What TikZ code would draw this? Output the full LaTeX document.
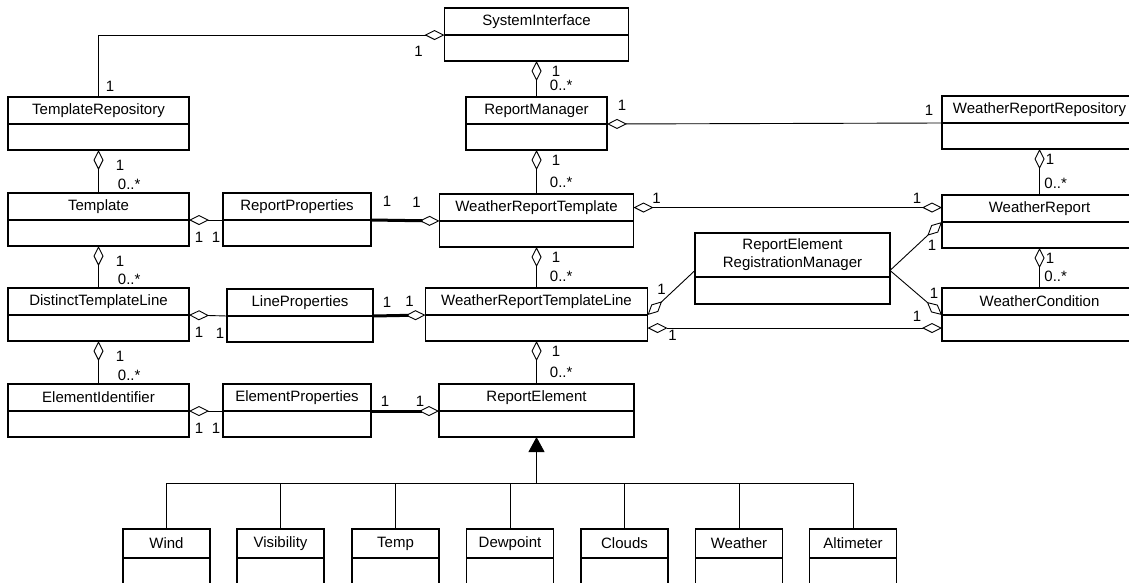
\documentclass[tikz,border=0pt]{standalone}
\usepackage{fontspec}
\setmainfont{Liberation Sans}
\usetikzlibrary{positioning, arrows.meta}

\begin{document}
\begin{tikzpicture}[x=1pt, y=-1pt,
    classhead/.style={draw, line width=1.1pt, inner sep=0pt, outer sep=0pt, anchor=north,
      minimum height=27pt, align=center, font=\fontsize{15}{18}\selectfont},
    classbody/.style={draw, line width=1.1pt, inner sep=0pt, outer sep=0pt, minimum height=26pt},
    conn/.style={line width=0.9pt},
    agg/.style={conn, {Diamond[open, length=20pt, width=10pt, line width=0.9pt]}-},
    aggr/.style={conn, -{Diamond[open, length=20pt, width=10pt, line width=0.9pt]}},
    aggboth/.style={conn, {Diamond[open, length=20pt, width=10pt, line width=0.9pt]}-{Diamond[open, length=20pt, width=10pt, line width=0.9pt]}},
    strong/.style={line width=3pt, -{Diamond[open, length=20pt, width=10pt, line width=0.9pt]}},
    inherit/.style={conn, -{Triangle[length=15pt, width=16pt]}},
    mult/.style={font=\fontsize{15}{18}\selectfont, inner sep=1pt, anchor=base west}]
    \useasboundingbox (0,0) rectangle (1129,582);
    \clip (0,0) rectangle (1129,582);

    % first row
    \node[classhead, minimum width=184pt] (si) at (536.5,8) {SystemInterface};
    \node[classbody, minimum width=184pt, below=0pt of si] (si-b) {};
    \node[classhead, minimum width=181pt] (trep) at (98.5,97) {TemplateRepository};
    \node[classbody, minimum width=181pt, below=0pt of trep] (trep-b) {};
    \node[classhead, minimum width=141pt] (rm) at (536.5,97) {ReportManager};
    \node[classbody, minimum width=141pt, below=0pt of rm] (rm-b) {};
    \node[classhead, minimum width=195pt] (wrr) at (1039.5,96) {WeatherReportRepository};
    \node[classbody, minimum width=195pt, below=0pt of wrr] (wrr-b) {};

    % second row
    \node[classhead, minimum width=181pt] (tpl) at (98.5,193) {Template};
    \node[classbody, minimum width=181pt, below=0pt of tpl] (tpl-b) {};
    \node[classhead, minimum width=148pt] (rp) at (297,193) {ReportProperties};
    \node[classbody, minimum width=148pt, below=0pt of rp] (rp-b) {};
    \node[classhead, minimum width=194pt] (wrt) at (536.5,194) {WeatherReportTemplate};
    \node[classbody, minimum width=194pt, below=0pt of wrt] (wrt-b) {};
    \node[classhead, minimum width=195pt] (wr) at (1039.5,195) {WeatherReport};
    \node[classbody, minimum width=195pt, below=0pt of wr] (wr-b) {};
    \node[classhead, minimum width=195pt, minimum height=44pt] (rerm) at (792.5,233) {ReportElement\\RegistrationManager};
    \node[classbody, minimum width=195pt, minimum height=27pt, below=0pt of rerm] (rerm-b) {};

    % third row
    \node[classhead, minimum width=181pt] (dtl) at (98.5,288) {DistinctTemplateLine};
    \node[classbody, minimum width=181pt, below=0pt of dtl] (dtl-b) {};
    \node[classhead, minimum width=146pt] (lp) at (300,289) {LineProperties};
    \node[classbody, minimum width=146pt, below=0pt of lp] (lp-b) {};
    \node[classhead, minimum width=222pt] (wrtl) at (536.5,288) {WeatherReportTemplateLine};
    \node[classbody, minimum width=222pt, below=0pt of wrtl] (wrtl-b) {};
    \node[classhead, minimum width=195pt] (wc) at (1039.5,288) {WeatherCondition};
    \node[classbody, minimum width=195pt, below=0pt of wc] (wc-b) {};

    % fourth row
    \node[classhead, minimum width=181pt] (ei) at (98.5,384) {ElementIdentifier};
    \node[classbody, minimum width=181pt, below=0pt of ei] (ei-b) {};
    \node[classhead, minimum width=148pt] (ep) at (297,384) {ElementProperties};
    \node[classbody, minimum width=148pt, below=0pt of ep] (ep-b) {};
    \node[classhead, minimum width=195pt] (re) at (536.5,384) {ReportElement};
    \node[classbody, minimum width=195pt, below=0pt of re] (re-b) {};

    % report element kinds
    \foreach \n/\x/\t in {wind/166.5/Wind, vis/280.5/Visibility, temp/395.5/Temp,
        dew/510/Dewpoint, cld/624.5/Clouds, wx/739/Weather, alt/853/Altimeter} {
      \node[classhead, minimum width=87pt, minimum height=29pt] (\n) at (\x,529) {\t};
      \node[classbody, minimum width=87pt, minimum height=34pt, below=0pt of \n] (\n-b) {};
    }

    % aggregations, left column
    \draw[agg] (si.south west) -| (trep.north)
      node[mult, pos=0, xshift=-31.6pt, yshift=-21pt] {1}
      node[mult, pos=1, xshift=5.9pt, yshift=6pt] {1};
    \draw[agg] (trep-b.south) -- (tpl.north)
      node[mult, pos=0, xshift=16pt, yshift=-20pt] {1}
      node[mult, pos=1, xshift=18pt, yshift=4pt] {0..*};
    \draw[agg] (tpl-b.south) -- (dtl.north)
      node[mult, pos=0, xshift=16pt, yshift=-20pt] {1}
      node[mult, pos=1, xshift=18pt, yshift=4pt] {0..*};
    \draw[agg] (dtl-b.south) -- (ei.north)
      node[mult, pos=0, xshift=16pt, yshift=-20pt] {1}
      node[mult, pos=1, xshift=18pt, yshift=4pt] {0..*};

    % aggregations, centre column
    \draw[agg] (si-b.south) -- (rm.north)
      node[mult, pos=0, xshift=14pt, yshift=-15pt] {1}
      node[mult, pos=1, xshift=12pt, yshift=7pt] {0..*};
    \draw[agg] (rm-b.south) -- (wrt.north)
      node[mult, pos=0, xshift=14pt, yshift=-15pt] {1}
      node[mult, pos=1, xshift=12pt, yshift=7pt] {0..*};
    \draw[agg] (wrt-b.south) -- (wrtl.north)
      node[mult, pos=0, xshift=14pt, yshift=-15pt] {1}
      node[mult, pos=1, xshift=12pt, yshift=7pt] {0..*};
    \draw[agg] (wrtl-b.south) -- (re.north)
      node[mult, pos=0, xshift=14pt, yshift=-15pt] {1}
      node[mult, pos=1, xshift=12pt, yshift=7pt] {0..*};

    % aggregations, right column
    \draw[agg] (rm.south east) -- (wrr.south west)
      node[mult, pos=0, xshift=9.4pt, yshift=14pt] {1}
      node[mult, pos=1, xshift=-18.6pt, yshift=8pt] {1};
    \draw[agg] (wrr-b.south) -- (wr.north)
      node[mult, pos=0, xshift=5pt, yshift=-15pt] {1}
      node[mult, pos=1, xshift=3.5pt, yshift=7pt] {0..*};
    \draw[agg] (wr-b.south) -- (wc.north)
      node[mult, pos=0, xshift=5pt, yshift=-15pt] {1}
      node[mult, pos=1, xshift=3.5pt, yshift=7pt] {0..*};
    \draw[aggboth] (wrt.east) -- (wrt.east -| wr.west)
      node[mult, pos=0, xshift=17.4pt, yshift=4.5pt] {1}
      node[mult, pos=1, xshift=-30.6pt, yshift=4.5pt] {1};
    \draw[aggboth] (wrtl-b.east) -- (wrtl-b.east -| wc.west)
      node[mult, pos=0, xshift=19.4pt, yshift=-12pt] {1}
      node[mult, pos=1, xshift=-30.6pt, yshift=7pt] {1};

    % registration manager
    \draw[agg] (wrtl.south east) -- (rerm.189)
      node[mult, pos=0, xshift=8.4pt, yshift=21pt] {1};
    \draw[aggr] (rerm.351) -- (wr.south west)
      node[mult, pos=1, xshift=-15.6pt, yshift=-28pt] {1};
    \draw[aggr] (rerm.351) -- (wc.south west)
      node[mult, pos=1, xshift=-13.6pt, yshift=17pt] {1};

    % properties
    \draw[agg] (tpl.south east) -- (rp.south west)
      node[mult, pos=0, xshift=4.4pt, yshift=-22pt] {1}
      node[mult, pos=1, xshift=-12.6pt, yshift=-22pt] {1};
    \draw[agg] (dtl.south east) -- (lp.south west)
      node[mult, pos=0, xshift=4.4pt, yshift=-22pt] {1}
      node[mult, pos=1, xshift=-12.6pt, yshift=-22pt] {1};
    \draw[agg] (ei.south east) -- (ep.south west)
      node[mult, pos=0, xshift=4.4pt, yshift=-22pt] {1}
      node[mult, pos=1, xshift=-12.6pt, yshift=-22pt] {1};
    \draw[strong] (rp.south east) -- (wrt.south west)
      node[mult, pos=0, xshift=9.4pt, yshift=14pt] {1}
      node[mult, pos=1, xshift=-29.6pt, yshift=14pt] {1};
    \draw[strong] (lp.south east) -- (wrtl.south west)
      node[mult, pos=0, xshift=7.4pt, yshift=9pt] {1}
      node[mult, pos=1, xshift=-22.6pt, yshift=9pt] {1};
    \draw[strong] (ep.south east) -- (re.south west)
      node[mult, pos=0, xshift=7.4pt, yshift=5pt] {1}
      node[mult, pos=1, xshift=-25.6pt, yshift=5pt] {1};

    % generalisation
    \coordinate (bus) at (536.5,483);
    \draw[inherit] (bus) -- (re-b.south);
    \foreach \n in {wind, vis, temp, dew, cld, wx, alt}
      \draw[conn] (\n.north) |- (bus);
  \end{tikzpicture}
\end{document}
